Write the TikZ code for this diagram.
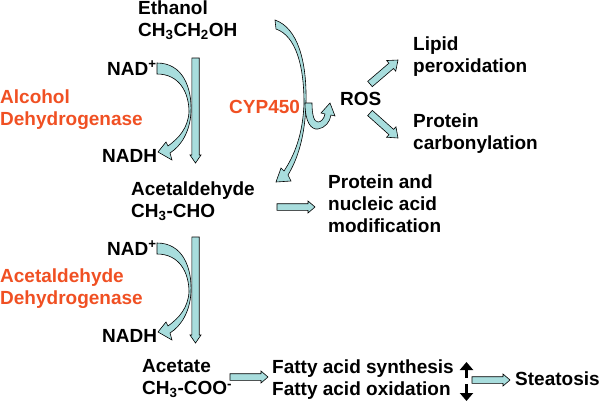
\documentclass[tikz,border=0pt]{standalone}
\usepackage{fontspec}
\setmainfont{Liberation Sans}
\usetikzlibrary{calc,arrows.meta}
\definecolor{arrowfill}{RGB}{168,221,221}
\definecolor{enzyme}{RGB}{240,80,35}
\begin{document}
\begin{tikzpicture}[x=1pt,y=-1pt,
  lbl/.style={inner sep=0pt, font=\bfseries\fontsize{19}{22}\selectfont, align=left},
  enz/.style={lbl, text=enzyme},
  blockarrow/.style n args={3}{fill=arrowfill, draw=black, line width=0.6pt, line join=miter,
    to path={let \p1=(\tikztostart), \p2=(\tikztotarget), \n1={atan2(\y2-\y1,\x2-\x1)} in
      ($(\p1)+(\n1+90:#1)$) -- ($(\p2)+(\n1+180:#3)+(\n1+90:#1)$) -- ($(\p2)+(\n1+180:#3)+(\n1+90:#2)$)
      -- (\p2) -- ($(\p2)+(\n1+180:#3)+(\n1-90:#2)$) -- ($(\p2)+(\n1+180:#3)+(\n1-90:#1)$)
      -- ($(\p1)+(\n1-90:#1)$) -- cycle}},
  crescent/.style={fill=arrowfill, draw=black, line width=0.6pt, line join=miter},
  updown/.style={line width=3.6pt, -{Triangle[width=13pt,length=8pt]}}
]
\useasboundingbox (0,0) rectangle (600,402);

% text nodes
\node[lbl, anchor=north west] (eth) at (138,0.3) {Ethanol\\CH\textsubscript{3}CH\textsubscript{2}OH};
\node[lbl, anchor=base west] (nad1) at (107,75) {NAD\textsuperscript{+}};
\node[enz, anchor=north west] (adh) at (0,89.3) {Alcohol\\Dehydrogenase};
\node[lbl, anchor=base west] (nadh1) at (102,162) {NADH};
\node[lbl, anchor=north west] (acetald) at (131,181.3) {Acetaldehyde\\CH\textsubscript{3}-CHO};
\node[lbl, anchor=base west] (nad2) at (107,255) {NAD\textsuperscript{+}};
\node[enz, anchor=north west] (aldh) at (0,268.3) {Acetaldehyde\\Dehydrogenase};
\node[lbl, anchor=base west] (nadh2) at (102,342) {NADH};
\node[lbl, anchor=north west] (acetate) at (142,359.3) {Acetate\\CH\textsubscript{3}-COO\textsuperscript{-}};
\node[lbl, anchor=north west] (fas) at (272,359.3) {Fatty acid synthesis\\Fatty acid oxidation};
\node[lbl, anchor=base west] (ste) at (515,385) {Steatosis};
\node[enz, anchor=base west] (cyp) at (229,113) {CYP450};
\node[lbl, anchor=base west] (ros) at (340,105) {ROS};
\node[lbl, anchor=north west] (lipid) at (413,36.3) {Lipid\\peroxidation};
\node[lbl, anchor=north west] (protc) at (413,113.3) {Protein\\carbonylation};
\node[lbl, anchor=north west] (pna) at (328,174.3) {Protein and\\nucleic acid\\modification};

% connector ends
\coordinate (v1s) at (195.5,58);   \coordinate (v1e) at (195.5,163);
\coordinate (v2s) at (195.5,237);  \coordinate (v2e) at (195.5,343);
\coordinate (h1s) at (277,207);    \coordinate (h1e) at (315,207);
\coordinate (h2s) at (230,377);    \coordinate (h2e) at (268,377);
\coordinate (h3s) at (472,380);    \coordinate (h3e) at (510,380);
\coordinate (d1s) at (370,84);     \coordinate (d1e) at (398,60);
\coordinate (d2s) at (370,113);    \coordinate (d2e) at (398,138);
\coordinate (ups) at (466.5,378);  \coordinate (upe) at (466.5,362);
\coordinate (dns) at (466.5,384);  \coordinate (dne) at (466.5,401);

% block arrows
\draw[blockarrow={3.7pt}{5.5pt}{8pt}] (v1s) to (v1e);
\draw[blockarrow={3.7pt}{5.5pt}{8pt}] (v2s) to (v2e);
\draw[blockarrow={3.3pt}{6pt}{7pt}] (h1s) to (h1e);
\draw[blockarrow={3.3pt}{6pt}{7pt}] (h2s) to (h2e);
\draw[blockarrow={3.3pt}{6pt}{7pt}] (h3s) to (h3e);
\draw[blockarrow={3.5pt}{7pt}{9pt}] (d1s) to (d1e);
\draw[blockarrow={3.5pt}{7pt}{9pt}] (d2s) to (d2e);

% curved arrows (NAD+ -> NADH)
\draw[crescent] (157,63) .. controls (183,63) and (192,88) .. (191,112)
  .. controls (190,132) and (181,146) .. (170,153) -- (172,160) -- (158,152) -- (166,142) -- (168,146)
  .. controls (179,138) and (188,128) .. (189,112)
  .. controls (189,92) and (179,74) .. (157,74) -- cycle;
\draw[crescent] (157,243) .. controls (183,243) and (192,268) .. (191,292)
  .. controls (190,312) and (181,326) .. (170,333) -- (172,340) -- (158,332) -- (166,322) -- (168,326)
  .. controls (179,318) and (188,308) .. (189,292)
  .. controls (189,272) and (179,254) .. (157,254) -- cycle;

% CYP450 curved arrow
\draw[crescent] (275,20) .. controls (298,28) and (307,62) .. (306,103)
  .. controls (305,138) and (297,160) .. (288,175) -- (291,181) -- (276,182) -- (281,168) -- (284,171)
  .. controls (294,156) and (303,135) .. (304,103)
  .. controls (304,66) and (296,36) .. (276,29) -- cycle;

% U-shaped arrow to ROS
\draw[crescent] (305,103) .. controls (305,122) and (311,130) .. (318,129)
  .. controls (325,128) and (330,122) .. (331,115) -- (335,116) -- (330,103) -- (321,113) -- (325,114)
  .. controls (324,119) and (321,122) .. (318,122)
  .. controls (314,122) and (312,115) .. (312,103) -- cycle;

% black up/down arrows
\draw[updown] (ups) -- (upe);
\draw[updown] (dns) -- (dne);
\end{tikzpicture}
\end{document}
